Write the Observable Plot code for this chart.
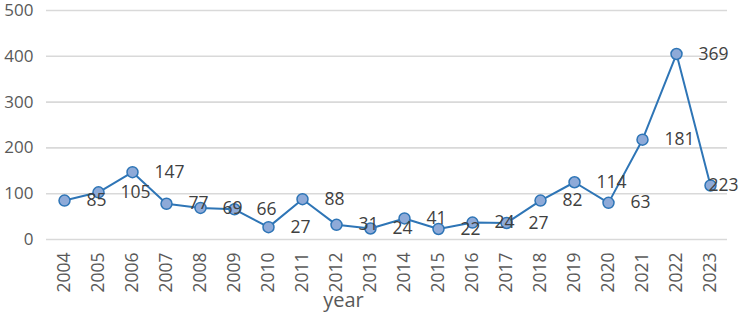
<!DOCTYPE html>
<html>
<head>
<meta charset="utf-8">
<script src="https://cdn.jsdelivr.net/npm/d3@7"></script>
<script src="https://cdn.jsdelivr.net/npm/@observablehq/plot@0.6"></script>
<style>
  html, body { margin: 0; padding: 0; background: #fff; }
  #chart { width: 740px; height: 313px; }
</style>
</head>
<body>
<div id="chart"></div>
<script>
const years = [2004, 2005, 2006, 2007, 2008, 2009, 2010, 2011, 2012, 2013,
               2014, 2015, 2016, 2017, 2018, 2019, 2020, 2021, 2022, 2023];
const values = [85, 103, 147, 78, 69, 66, 27, 88, 32, 24,
                46, 23, 37, 36, 85, 125, 80, 218, 405, 118];
const labels = ["85", "105", "147", "77", "69", "66", "27", "88", "31", "24",
                "41", "22", "24", "27", "82", "114", "63", "181", "369", "223"];
const yTicks = [0, 100, 200, 300, 400, 500];
const xTitle = "year";

const data = years.map((y, i) => ({year: y, value: values[i], label: labels[i]}));
const n = data.length;

const chart = Plot.plot({
  width: 740,
  height: 313,
  marginLeft: 46,
  marginRight: 13,
  marginTop: 10,
  marginBottom: 74,
  style: {fontFamily: "'Open Sans', sans-serif", fontSize: "17px", color: "#595959", background: "#fff"},
  x: {type: "point", domain: years, padding: 0.5, label: null},
  y: {domain: [0, 500], label: null},
  marks: [
    Plot.gridY(yTicks, {stroke: "#d9d9d9", strokeOpacity: 1, strokeWidth: 1.6}),
    Plot.axisY(yTicks, {tickSize: 0, tickPadding: 13, fontSize: 17, fill: "#595959", label: null}),
    Plot.axisX(years, {tickSize: 0, tickPadding: 13, tickRotate: -90, tickFormat: d => String(d),
      fontSize: 17.5, fill: "#595959", label: null}),
    Plot.line(data, {x: "year", y: "value", stroke: "#2e75b6", strokeWidth: 2}),
    Plot.dot(data, {x: "year", y: "value", r: 5.5, fill: "#8eaad8", stroke: "#2e75b6", strokeWidth: 1.5}),
    Plot.text(data, {filter: (d, i) => i < n - 1, x: "year", y: "value", text: "label",
      dx: 22, textAnchor: "start", lineAnchor: "middle", fill: "#404040", fontSize: 17.5}),
    Plot.text(data, {filter: (d, i) => i === n - 1, x: "year", y: "value", text: "label",
      dx: 28, textAnchor: "end", lineAnchor: "middle", fill: "#404040", fontSize: 17.5}),
    Plot.text([xTitle], {frameAnchor: "bottom", text: d => d, dx: -43.5, dy: 61,
      lineAnchor: "middle", fill: "#595959", fontSize: 20})
  ]
});
document.getElementById("chart").appendChild(chart);
</script>
</body>
</html>
